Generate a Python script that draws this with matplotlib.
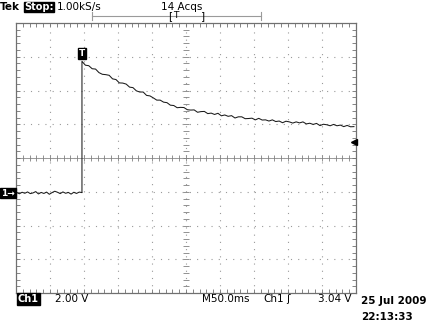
import numpy as np
import matplotlib
matplotlib.use("agg")
import matplotlib.pyplot as plt
from matplotlib.lines import Line2D

# scope settings shown on the screen
volts_per_div = 2.0
ms_per_div = 50.0
trigger_level = 3.04
centre_volts = 2.07       # voltage at the horizontal centre line
left_ms = -97.0           # time at the left edge of the graticule

# captured waveform (ms, V)
pre_ms = list(range(-96, 1, 4))
pre_volts = [0.02, -0.05, 0.04, -0.02, 0.06, -0.04, 0.00, 0.08, -0.06, 0.03,
             -0.03, 0.05, -0.08, 0.02, 0.10, 0.04, -0.04, 0.06, -0.02, 0.03,
             -0.07, 0.04, -0.03, 0.05, 0.02]
post_ms = list(range(0, 401, 5))
post_volts = [7.80, 7.57, 7.54, 7.36, 7.34, 7.13, 7.03, 7.01, 6.97, 6.76,
              6.72, 6.52, 6.51, 6.45, 6.27, 6.24, 6.05, 5.98, 5.98, 5.78,
              5.75, 5.63, 5.50, 5.50, 5.38, 5.35, 5.20, 5.18, 5.05, 5.07,
              5.06, 4.93, 4.91, 4.92, 4.78, 4.82, 4.83, 4.70, 4.73, 4.65,
              4.72, 4.57, 4.62, 4.54, 4.58, 4.44, 4.51, 4.51, 4.40, 4.41,
              4.43, 4.33, 4.42, 4.32, 4.33, 4.26, 4.33, 4.23, 4.26, 4.16,
              4.25, 4.21, 4.14, 4.21, 4.15, 4.21, 4.09, 4.13, 4.06, 4.12,
              3.99, 4.07, 4.04, 3.98, 4.06, 3.98, 4.02, 3.93, 4.00, 3.92,
              3.93]

W, H = 435, 326


def px(x, y):
    return x / W, 1 - y / H


fig = plt.figure(figsize=(W / 100, H / 100), dpi=100)
fig.patch.set_facecolor("white")
ax = fig.add_axes([16 / W, (H - 293) / H, 340 / W, 270 / H])

xlim = (left_ms, left_ms + 10 * ms_per_div)
ylim = (centre_volts - 4 * volts_per_div, centre_volts + 4 * volts_per_div)
ax.set_xlim(xlim)
ax.set_ylim(ylim)

xmaj = left_ms + ms_per_div * np.arange(11)
ymaj = ylim[0] + volts_per_div * np.arange(9)
xmin = left_ms + ms_per_div / 5 * np.arange(51)
ymin = ylim[0] + volts_per_div / 5 * np.arange(41)
ax.set_xticks(xmaj)
ax.set_yticks(ymaj)
ax.set_xticks(xmin, minor=True)
ax.set_yticks(ymin, minor=True)
ax.set_xticklabels([])
ax.set_yticklabels([])
ax.tick_params(which="both", direction="in", top=True, right=True,
               length=3, width=0.6, color="#707070")
for s in ax.spines.values():
    s.set_color("#707070")
    s.set_linewidth(0.9)

# dotted graticule
for x in xmaj[1:-1]:
    ax.axvline(x, color="#9a9a9a", lw=0.8, ls=(0, (1, 5.5)), zorder=0)
for y in ymaj[1:-1]:
    ax.axhline(y, color="#9a9a9a", lw=0.8, ls=(0, (1, 5.5)), zorder=0)

# centre crosshair with tick marks
xc = xmaj[5]
ax.axhline(centre_volts, color="#9a9a9a", lw=0.7, zorder=0)
ax.plot(xmin, [centre_volts] * len(xmin), "|", color="#808080", ms=5, mew=0.6, zorder=1)
ax.plot([xc] * len(ymin), ymin, "_", color="#808080", ms=5, mew=0.6, zorder=1)

# trace
t = np.array(pre_ms + post_ms)
v = np.array(pre_volts + post_volts)
ax.plot(t, v, color="#1a1a1a", lw=0.75, zorder=3)

# trigger level arrow on the right edge
ax.plot([xlim[1] - 3], [trigger_level], marker="<", color="black", ms=5,
        clip_on=False, zorder=4)

# trigger point marker
ax.text(0, post_volts[0] + 0.2, "T", color="white", fontsize=6.5, weight="bold",
        ha="center", va="bottom",
        bbox=dict(boxstyle="square,pad=0.12", fc="black", ec="black"), zorder=5)

# ground marker
fig.text(*px(1, 193), "1\u2192", color="white", fontsize=6.5, weight="bold",
         ha="left", va="center",
         bbox=dict(boxstyle="square,pad=0.1", fc="black", ec="black"))

# top status line
fs = 7.5
fig.text(*px(0, 7), "Tek", fontsize=fs, weight="bold", ha="left", va="center")
fig.text(*px(24, 7), "Stop:", fontsize=7, weight="bold", color="white",
         ha="left", va="center",
         bbox=dict(boxstyle="square,pad=0.05", fc="black", ec="black"))
fig.text(*px(57, 7), "1.00kS/s", fontsize=fs, ha="left", va="center")
fig.text(*px(182, 7), "14 Acqs", fontsize=fs, ha="center", va="center")

# record position indicator
fig.add_artist(Line2D([92 / W, 261 / W], [1 - 16 / H] * 2, color="#9a9a9a", lw=0.8))
for xe in (92, 261):
    fig.add_artist(Line2D([xe / W] * 2, [1 - 12 / H, 1 - 20 / H], color="#9a9a9a", lw=0.8))
fig.text(*px(168, 16), "[", fontsize=fs, ha="left", va="center")
fig.text(*px(173, 16), "T", fontsize=fs - 1, ha="left", va="center")
fig.text(*px(201, 16), "]", fontsize=fs, ha="left", va="center")

# bottom status line
fig.text(*px(18, 299), "Ch1", fontsize=7, weight="bold", color="white",
         ha="left", va="center",
         bbox=dict(boxstyle="square,pad=0.08", fc="black", ec="black"))
fig.text(*px(55, 299), "2.00 V", fontsize=fs, ha="left", va="center")
fig.text(*px(202, 299), "M50.0ms", fontsize=fs, ha="left", va="center")
fig.text(*px(263, 299), "Ch1", fontsize=fs, ha="left", va="center")
fig.text(*px(286, 299), "\u0283", fontsize=fs, ha="left", va="center")
fig.text(*px(352, 299), "%.2f V" % trigger_level, fontsize=fs, ha="right", va="center")
fig.text(*px(361, 301), "25 Jul 2009", fontsize=fs, weight="bold", ha="left", va="center")
fig.text(*px(361, 317), "22:13:33", fontsize=fs, weight="bold", ha="left", va="center")

fig.savefig("out.png", dpi=100, facecolor="white")
